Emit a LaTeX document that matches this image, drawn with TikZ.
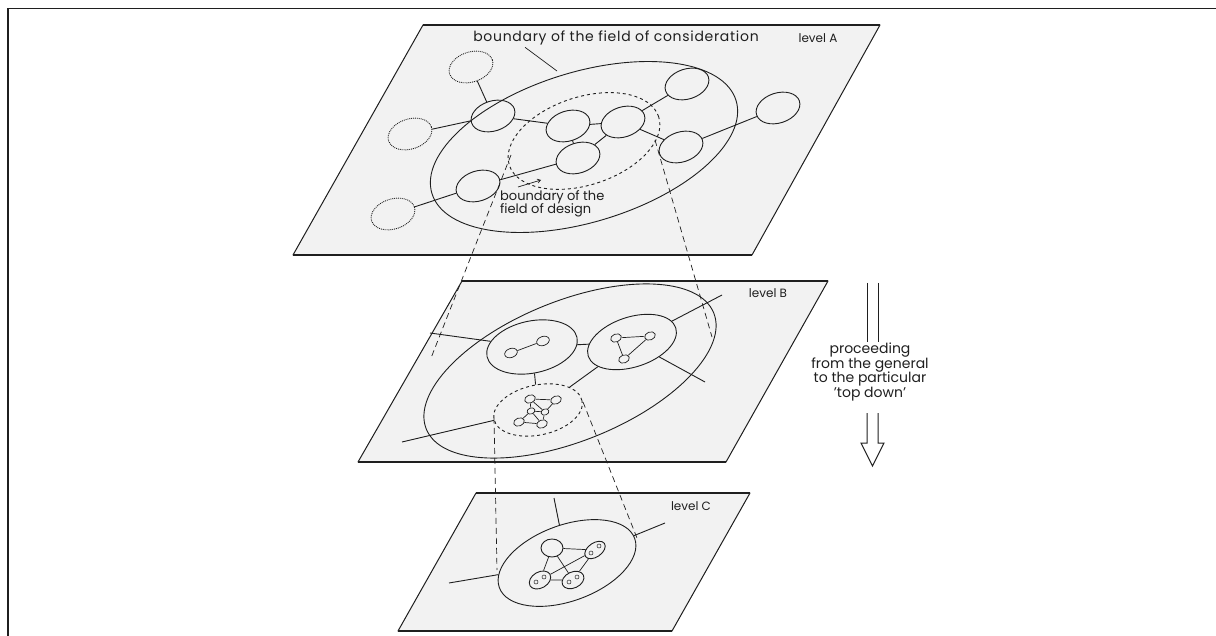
\documentclass[tikz,border=0pt]{standalone}
\usepackage{fontspec}
\setmainfont{Poppins}
\usetikzlibrary{shapes.geometric,arrows.meta}
\definecolor{planefill}{gray}{0.95}
\definecolor{ink}{gray}{0.12}
\begin{document}
\begin{tikzpicture}[x=1pt,y=-1pt,
  plane/.style={fill=planefill,draw=ink,line width=1pt,line join=round},
  rim/.style={draw=ink,line width=2pt},
  elps/.style={ellipse,draw=ink,line width=0.9pt,inner sep=0pt},
  bubble/.style={elps,minimum width=45pt,minimum height=30pt,rotate=18},
  ghost/.style={bubble,densely dotted},
  minor/.style={elps,minimum width=13pt,minimum height=9pt,rotate=20,line width=0.7pt},
  wee/.style={elps,minimum width=4pt,minimum height=4pt,line width=0.5pt},
  link/.style={draw=ink,line width=0.9pt},
  fine/.style={draw=ink,line width=0.7pt},
  proj/.style={draw=ink,line width=0.7pt,dash pattern=on 6pt off 4pt},
  lbl/.style={text=ink,font=\fontsize{12}{14}\selectfont,inner sep=0pt},
]
\useasboundingbox (0,0) rectangle (1216,636);
% frame
\draw[ink,line width=1.5pt] (8,636) -- (8,8.5) -- (1216,8.5);

% ---------------- level A ----------------
\draw[plane] (423,25)--(880,25)--(752,255)--(293,255)--cycle;
\draw[rim] (423,25)--(880,25);
\draw[rim] (293,255)--(752,255);
\node[elps,minimum width=318pt,minimum height=150pt,rotate=17] (cA) at (584,147) {};
\node[elps,dashed,minimum width=157pt,minimum height=88pt,rotate=18] (dA) at (584,141) {};
\node[bubble] (a1) at (493,116) {};
\node[bubble] (a2) at (568,126) {};
\node[bubble] (a3) at (623,122) {};
\node[bubble] (a4) at (578,158) {};
\node[bubble] (a5) at (687,84) {};
\node[bubble] (a6) at (681,147) {};
\node[bubble] (a7) at (478,186) {};
\node[bubble] (a8) at (778,108) {};
\node[ghost] (g1) at (471,67) {};
\node[ghost] (g2) at (410,134) {};
\node[ghost] (g3) at (393,214) {};
\draw[link] (g1)--(a1) (g2)--(a1) (a1)--(a2) (a2)--(a3) (a2)--(a4) (a4)--(a3)
  (a3)--(a5) (a3)--(a6) (a4)--(a7) (a7)--(g3) (a6)--(a8);
\node[lbl,font=\fontsize{14}{16}\selectfont\addfontfeature{LetterSpace=5}] (tA) at (616,38) {boundary of the field of consideration};
\node[lbl] (lA) at (818,38) {level A};
\coordinate (kA) at (557,71);
\draw[fine] ([xshift=52pt,yshift=-2pt]tA.south west) -- (kA);
\node[lbl,align=left,anchor=north west,font=\fontsize{13}{13.5}\selectfont] (tD) at (500,190) {boundary of the\\field of design};
\coordinate (kD) at (541,180);
\draw[fine,-{Straight Barb[length=3pt,width=4pt]}] ([xshift=18pt,yshift=3pt]tD.north west) -- (kD);

% ---------------- level B ----------------
\draw[plane] (462,281)--(828,281)--(726,462)--(358,462)--cycle;
\draw[rim] (462,281)--(828,281);
\draw[rim] (358,462)--(726,462);
\node[elps,minimum width=310pt,minimum height=140pt,rotate=22] (cB) at (570,371) {};
\node[elps,minimum width=92pt,minimum height=52pt,rotate=12] (b1) at (532,347) {};
\node[elps,minimum width=92pt,minimum height=50pt,rotate=18] (b2) at (632,342) {};
\node[elps,dashed,minimum width=90pt,minimum height=50pt,rotate=12] (b3) at (538,410) {};
\node[minor] (p1) at (511,353) {};
\node[minor] (p2) at (543,341) {};
\draw[fine] (p1)--(p2);
\node[minor,minimum width=11pt,minimum height=8pt] (q1) at (616,338) {};
\node[minor,minimum width=11pt,minimum height=8pt] (q2) at (650,336) {};
\node[minor,minimum width=11pt,minimum height=8pt] (q3) at (624,359) {};
\draw[fine] (q1)--(q2) (q2)--(q3) (q3)--(q1);
\node[minor,minimum width=11pt,minimum height=8pt] (r1) at (530,399) {};
\node[minor,minimum width=11pt,minimum height=8pt] (r2) at (556,400) {};
\node[minor,minimum width=11pt,minimum height=8pt] (r3) at (519,422) {};
\node[minor,minimum width=11pt,minimum height=8pt] (r4) at (542,424) {};
\node[minor,minimum width=8pt,minimum height=6pt] (r5) at (531,411) {};
\node[minor,minimum width=8pt,minimum height=6pt] (r6) at (545,412) {};
\draw[fine] (r1)--(r2) (r1)--(r5) (r2)--(r6) (r5)--(r6) (r5)--(r3) (r6)--(r4) (r3)--(r4) (r1)--(r6) (r5)--(r4);
\coordinate (xb1) at (430,333);
\coordinate (xb2) at (722,295);
\coordinate (xb3) at (705,382);
\coordinate (xb4) at (402,442);
\draw[link] (xb1)--(b1) (b1)--(b2) (b1)--(b3) (b2)--(xb2) (b2)--(xb3) (b2)--(b3) (b3)--(xb4);
\node[lbl] (lB) at (768,293) {level B};

% ---------------- level C ----------------
\draw[plane] (476,493)--(750,493)--(672,631)--(398,631)--cycle;
\draw[rim] (476,493)--(750,493);
\draw[rim] (398,631)--(672,631);
\node[elps,minimum width=144pt,minimum height=76pt,rotate=20] (cC) at (567,563) {};
\coordinate (xc1) at (554,498);
\coordinate (xc2) at (665,523);
\coordinate (xc3) at (449,583);
\draw[link] (cC)--(xc1) (cC)--(xc2) (cC)--(xc3);
\node[elps,minimum width=22pt,minimum height=18pt] (ct) at (552,548) {};
\node[elps,minimum width=23pt,minimum height=14pt,rotate=35] (cr) at (595,550) {};
\node[elps,minimum width=23pt,minimum height=16pt,rotate=30] (cl) at (540,580) {};
\node[elps,minimum width=23pt,minimum height=16pt,rotate=25] (cm) at (573,580) {};
\draw[fine] (ct)--(cr) (ct)--(cl) (ct)--(cm) (cl)--(cm) (cl)--(cr) (cr)--(cm);
\node[wee] at (591,553) {};
\node[wee] at (599,546) {};
\node[wee] at (536,582) {};
\node[wee] at (544,577) {};
\node[wee] at (569,582) {};
\node[wee] at (577,577) {};
\node[lbl] (lC) at (691,506) {level C};

% ---------------- projections ----------------
\coordinate (pa1) at (511,155);
\coordinate (pa2) at (431,358);
\coordinate (pa3) at (655,140);
\coordinate (pa4) at (712,337);
\coordinate (pb1) at (494,418);
\coordinate (pb2) at (497,570);
\coordinate (pb3) at (583,402);
\coordinate (pb4) at (637,538);
\draw[proj] (pa1)--(pa2) (pa3)--(pa4) (pb1)--(pb2) (pb3)--(pb4);

% ---------------- direction arrow ----------------
\draw[ink,line width=1pt] (867,283)--(867,342) (878,283)--(878,342);
\draw[ink,line width=1pt,line join=miter] (867,413)--(867,443)--(861,443)--(872.5,466)--(884,443)--(878,443)--(878,413);
\node[lbl,align=center,font=\fontsize{14}{14.5}\selectfont] (tP) at (870,372) {proceeding\\from the general\\to the particular\\'top down'};
\end{tikzpicture}
\end{document}
